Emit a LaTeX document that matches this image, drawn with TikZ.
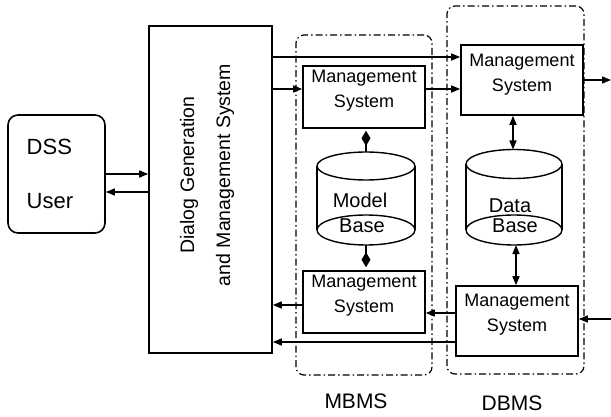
\documentclass[tikz,border=0pt]{standalone}
\usepackage{fontspec}
\setmainfont{Liberation Sans}
\usetikzlibrary{arrows.meta}
\begin{document}
\begin{tikzpicture}[x=1pt,y=-1pt,
  line width=1.5pt,
  box/.style={draw, line width=1.6pt, inner sep=0pt},
  msys/.style={box, minimum width=122pt},
  mtext/.style={font=\fontsize{18}{25}\selectfont, align=center, inner sep=0pt},
  ctext/.style={font=\fontsize{20}{24}\selectfont, inner sep=0pt},
  arr/.style={-{Triangle[length=9pt,width=7pt]}},
  darr/.style={{Triangle[length=9pt,width=7pt]}-{Triangle[length=9pt,width=7pt]}},
  dia/.style={-{Diamond[length=15pt,width=9pt]}},
  group/.style={draw, line width=1.2pt, rounded corners=8pt, inner sep=0pt,
    dash pattern=on 7pt off 3pt on 1.5pt off 3pt},
  cyl/.style={line width=1.4pt},
]
\useasboundingbox (0,0) rectangle (611,417);

% dash-dotted subsystem frames
\node[group, minimum width=136pt, minimum height=340pt] (mbms) at (364,205) {};
\node[group, minimum width=137pt, minimum height=368pt] (dbms) at (515.5,190) {};
\node[font=\fontsize{21}{24}\selectfont, inner sep=0pt] (mbmslbl) at (356,401.5) {MBMS};
\node[font=\fontsize{21}{24}\selectfont, inner sep=0pt] (dbmslbl) at (512,403.5) {DBMS};

% user
\node[box, rounded corners=10pt, minimum width=97pt, minimum height=118pt] (user) at (56.5,174) {};
\node[font=\fontsize{22}{26}\selectfont, inner sep=0pt, anchor=base west] (dss) at (26,155) {DSS};
\node[font=\fontsize{22}{26}\selectfont, inner sep=0pt, anchor=base west] (usr) at (26,208) {User};

% dialog generation and management system
\node[box, minimum width=123pt, minimum height=327pt] (dlg) at (210.5,189.5) {};
\node[font=\fontsize{19.5}{36}\selectfont, align=center, inner sep=0pt, rotate=90] (dlgtxt) at (207,175)
  {Dialog Generation\\and Management System};

% management system boxes
\node[msys, minimum height=62pt] (ms1) at (364,97) {};
\node[mtext] (ms1t) at (364,91) {Management\\System};
\node[msys, minimum height=62pt] (ms2) at (364,302) {};
\node[mtext] (ms2t) at (364,296) {Management\\System};
\node[msys, minimum height=70pt] (ds1) at (522,80) {};
\node[mtext] (ds1t) at (522,75) {Management\\System};
\node[msys, minimum height=70pt] (ds2) at (517,321) {};
\node[mtext] (ds2t) at (517,315) {Management\\System};

% model base cylinder
\draw[cyl] (317,166) -- (317,230) (415,166) -- (415,230);
\draw[cyl] (366,166) ellipse [x radius=49pt, y radius=14pt];
\draw[cyl] (366,230) ellipse [x radius=49pt, y radius=15pt];
\coordinate (mbtop) at (366,152);
\coordinate (mbbot) at (366,245);
\node[ctext] (model) at (360,200) {Model};
\node[ctext] (mbase) at (362,226) {Base};

% data base cylinder
\draw[cyl] (466,164) -- (466,230) (562,164) -- (562,230);
\draw[cyl] (514,164) ellipse [x radius=48pt, y radius=14.5pt];
\draw[cyl] (514,230) ellipse [x radius=48pt, y radius=15pt];
\coordinate (dbtop) at (513,149.5);
\coordinate (dbbot) at (516,245);
\node[ctext] (data) at (510,206) {Data};
\node[ctext] (dbase) at (515,226) {Base};

% free ends at the right border
\coordinate (outR) at (611,80);
\coordinate (inR) at (611,319);

% connectors
\draw[arr] (user.east |- 0,174) -- (dlg.west |- 0,174);
\draw[arr] (dlg.west |- 0,192) -- (user.east |- 0,192);
\draw[arr] (dlg.east |- 0,57) -- (ds1.west |- 0,57);
\draw[arr] (dlg.east |- 0,89) -- (ms1.west |- 0,89);
\draw[arr] (ms1.east |- 0,89) -- (ds1.west |- 0,89);
\draw[arr] (ds1.east |- outR) -- (outR);
\draw[darr] (ds1.south -| dbtop) -- (dbtop);
\draw[darr] (dbbot) -- (ds2.north -| dbbot);
\draw[dia, shorten >=2pt] (mbtop) -- (ms1.south -| mbtop);
\draw[dia, shorten >=3pt] (mbbot) -- (ms2.north -| mbbot);
\draw[arr] (ms2.west |- 0,305) -- (dlg.east |- 0,305);
\draw[arr] (ds2.west |- 0,313) -- (ms2.east |- 0,313);
\draw[arr] (ds2.west |- 0,342) -- (dlg.east |- 0,342);
\draw[arr] (inR) -- (ds2.east |- inR);
\end{tikzpicture}
\end{document}
